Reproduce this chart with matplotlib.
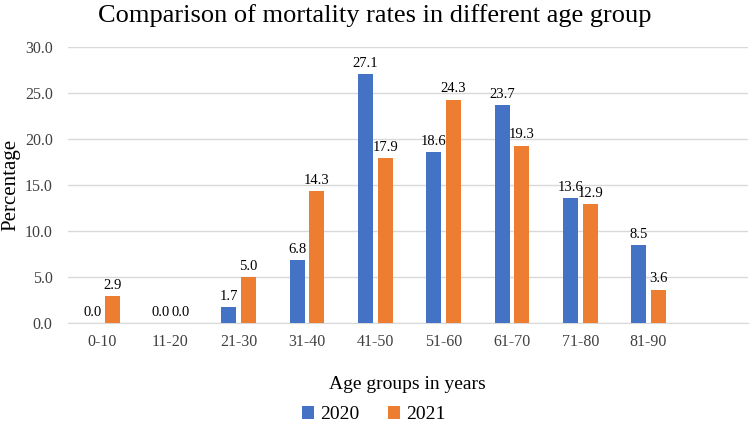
import numpy as np
import matplotlib.pyplot as plt

plt.rcParams['font.family'] = ['Liberation Serif', 'DejaVu Serif']

age_groups = ['0-10', '11-20', '21-30', '31-40', '41-50', '51-60', '61-70', '71-80', '81-90']
rates_2020 = [0.0, 0.0, 1.7, 6.8, 27.1, 18.6, 23.7, 13.6, 8.5]
rates_2021 = [2.9, 0.0, 5.0, 14.3, 17.9, 24.3, 19.3, 12.9, 3.6]

blue = '#4472C4'
orange = '#ED7D31'

fig = plt.figure(figsize=(7.5, 4.24), dpi=100)
ax = fig.add_axes([0.0907, 0.2389, 0.906, 0.6495])

x = np.arange(len(age_groups))
w = 0.22
b1 = ax.bar(x - 0.145, rates_2020, w, color=blue, label='2020', zorder=3)
b2 = ax.bar(x + 0.145, rates_2021, w, color=orange, label='2021', zorder=3)
ax.bar_label(b1, fmt='%.1f', padding=3, fontsize=10.5)
ax.bar_label(b2, fmt='%.1f', padding=3, fontsize=10.5)

ax.set_ylim(0, 30)
ax.set_yticks(np.arange(0, 31, 5))
ax.set_yticklabels([f'{v:.1f}' for v in np.arange(0, 31, 5)])
ax.set_xlim(-0.5, 9.45)
ax.set_xticks(x)
ax.set_xticklabels(age_groups)
ax.tick_params(length=0, labelsize=11.5, colors='#404040')
ax.tick_params(axis='y', pad=11)
ax.tick_params(axis='x', pad=8)
ax.grid(axis='y', color='#D9D9D9', linewidth=1, zorder=0)
for s in ['top', 'right', 'left']:
    ax.spines[s].set_visible(False)
ax.spines['bottom'].set_color('#D9D9D9')

fig.suptitle('Comparison of mortality rates in different age group', fontsize=19, y=0.99)
ax.set_ylabel('Percentage', fontsize=15)
ax.yaxis.set_label_coords(-0.07, 0.5)
ax.set_xlabel('Age groups in years', fontsize=14, labelpad=19)
ax.legend(loc='center', bbox_to_anchor=(0.45, -0.335), ncol=2, frameon=False,
          fontsize=14, handlelength=0.6, handleheight=0.6, handletextpad=0.3, columnspacing=1.5)

fig.savefig('out.png', dpi=100)
